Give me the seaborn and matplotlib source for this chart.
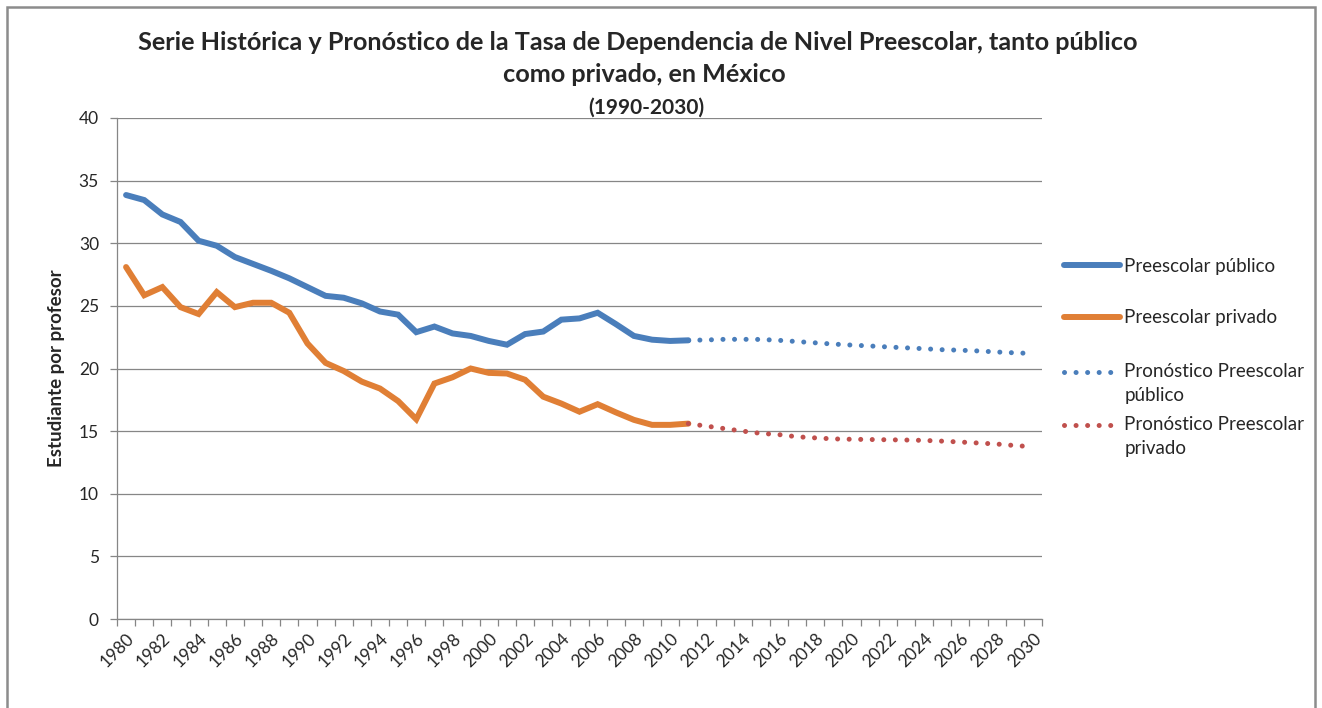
import numpy as np
import pandas as pd
import matplotlib
matplotlib.use('Agg')
import matplotlib.pyplot as plt
from matplotlib.patches import Rectangle
from matplotlib.ticker import MultipleLocator, FixedLocator
from matplotlib.legend_handler import HandlerLine2D
import seaborn as sns

# datos
anios_hist = list(range(1980, 2012))
publico = [33.85, 33.45, 32.3, 31.7, 30.2, 29.8, 28.9, 28.35, 27.8, 27.2,
           26.5, 25.8, 25.65, 25.2, 24.55, 24.3, 22.9, 23.35, 22.8, 22.6,
           22.2, 21.9, 22.75, 22.95, 23.9, 24.0, 24.45, 23.55, 22.6, 22.3,
           22.2, 22.25]
privado = [28.1, 25.85, 26.5, 24.9, 24.35, 26.1, 24.9, 25.25, 25.25, 24.45,
           22.0, 20.45, 19.8, 18.95, 18.4, 17.4, 15.95, 18.8, 19.3, 20.0,
           19.65, 19.6, 19.1, 17.75, 17.2, 16.55, 17.15, 16.5, 15.9, 15.5,
           15.5, 15.6]

anios_pron = list(range(2011, 2031))
pron_publico = [22.25, 22.28, 22.33, 22.33, 22.32, 22.25, 22.15, 22.05, 21.95, 21.87,
                21.8, 21.72, 21.65, 21.58, 21.5, 21.46, 21.4, 21.32, 21.25, 21.2]
pron_privado = [15.6, 15.4, 15.2, 15.0, 14.82, 14.72, 14.55, 14.46, 14.38, 14.35,
                14.33, 14.31, 14.29, 14.26, 14.2, 14.13, 14.05, 13.97, 13.85, 13.75]

etiquetas = ['Preescolar público', 'Preescolar privado',
             'Pronóstico Preescolar\npúblico', 'Pronóstico Preescolar\nprivado']
colores = ['#4A7EBB', '#E07F35', '#4A7EBB', '#C0504D']


class HandlerPrimeraLinea(HandlerLine2D):
    # en Excel la muestra queda a la altura de la primera linea del texto
    def create_artists(self, legend, orig_handle, xdescent, ydescent,
                       width, height, fontsize, trans):
        arts = super().create_artists(legend, orig_handle, xdescent, ydescent,
                                      width, height, fontsize, trans)
        for a in arts:
            a.set_ydata(np.asarray(a.get_ydata()) + 0.62 * fontsize)
        return arts


sns.set_style('white')
plt.rcParams['font.family'] = ['Lato', 'DejaVu Sans']

fig = plt.figure(figsize=(13.22, 7.08), dpi=100)
ax = fig.add_axes([117 / 1322, 1 - 619 / 708, (1042 - 117) / 1322, (619 - 118) / 708])

series = [(anios_hist, publico), (anios_hist, privado),
          (anios_pron, pron_publico), (anios_pron, pron_privado)]
for i, (xs, ys) in enumerate(series):
    if i < 2:
        sns.lineplot(x=xs, y=ys, ax=ax, color=colores[i], lw=4.3,
                     label=etiquetas[i], solid_joinstyle='miter', zorder=3)
    else:
        sns.lineplot(x=xs, y=ys, ax=ax, color=colores[i], lw=3.6,
                     linestyle=(0, (0.01, 2.3)), dash_capstyle='round',
                     label=etiquetas[i], zorder=4)

gris = '#868686'
ax.set_xlim(1979.5, 2030.5)
ax.set_ylim(0, 40)
ax.yaxis.set_major_locator(MultipleLocator(5))
ax.xaxis.set_major_locator(FixedLocator(list(range(1980, 2031, 2))))
ax.xaxis.set_minor_locator(FixedLocator(list(np.arange(1979.5, 2031, 1.0))))
ax.grid(axis='y', color=gris, lw=0.9)
ax.grid(axis='x', visible=False)
for s in ['top', 'right']:
    ax.spines[s].set_visible(False)
for s in ['left', 'bottom']:
    ax.spines[s].set_color(gris)
    ax.spines[s].set_linewidth(0.9)

ax.tick_params(axis='y', which='major', length=5, width=0.9, color=gris,
               direction='out', left=True, labelsize=12.5, labelcolor='#262626', pad=8)
ax.tick_params(axis='x', which='major', length=0, labelsize=12.5,
               labelcolor='#262626', pad=8)
ax.tick_params(axis='x', which='minor', length=5, width=0.9, color=gris,
               direction='out', bottom=True)
ax.set_xticklabels([str(a) for a in range(1980, 2031, 2)], rotation=45,
                   ha='right', rotation_mode='anchor')
ax.set_ylabel('Estudiante por profesor', fontsize=13.5, fontweight='bold', labelpad=10)
ax.set_xlabel('')

# leyenda en dos bloques como en Excel
h, l = ax.get_legend_handles_labels()
leg1 = ax.legend(h[:2], etiquetas[:2], loc='center left',
                 bbox_to_anchor=(1064 / 1322, 1 - 292 / 708), bbox_transform=fig.transFigure,
                 frameon=False, fontsize=13.5, handlelength=3.0, handletextpad=0.22,
                 borderpad=0, borderaxespad=0, labelspacing=1.85)
ax.add_artist(leg1)
leg2 = ax.legend(h[2:], etiquetas[2:], loc='center left',
                 bbox_to_anchor=(1064 / 1322, 1 - 410 / 708), bbox_transform=fig.transFigure,
                 frameon=False, fontsize=13.5, handlelength=3.0, handletextpad=0.22,
                 borderpad=0, borderaxespad=0, labelspacing=0.6,
                 handler_map={h[2]: HandlerPrimeraLinea(), h[3]: HandlerPrimeraLinea()})
for t in leg2.get_texts():
    t.set_linespacing(1.55)

# titulo
cx = 638 / 1322
fig.text(cx, 1 - 50 / 708, 'Serie Histórica y Pronóstico de la Tasa de Dependencia de Nivel Preescolar, tanto público',
         ha='center', va='baseline', fontsize=18.2, fontweight='bold')
fig.text(cx + 6 / 1322, 1 - 82 / 708, 'como privado, en México',
         ha='center', va='baseline', fontsize=18.2, fontweight='bold')
fig.text(cx + 8 / 1322, 1 - 114 / 708, '(1990-2030)',
         ha='center', va='baseline', fontsize=15, fontweight='bold')

# borde del area del grafico
fig.patches.append(Rectangle((7 / 1322, -0.05), (1315 - 7) / 1322, 1.05 - 7 / 708,
                             transform=fig.transFigure, fill=False,
                             edgecolor='#8c8c8c', lw=1.8))

fig.savefig('out.png', dpi=100)
